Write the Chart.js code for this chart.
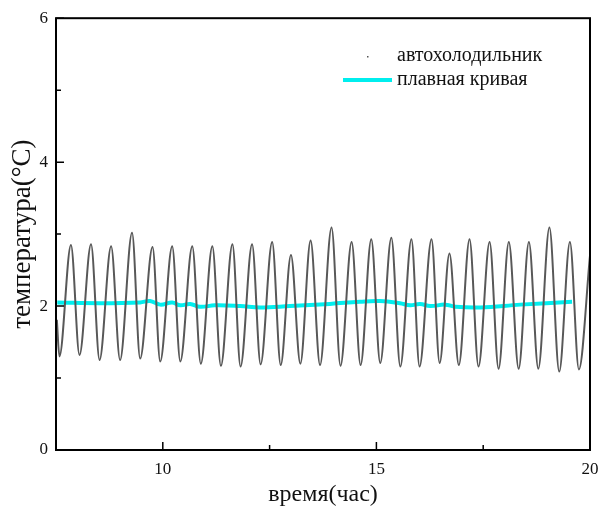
<!DOCTYPE html>
<html>
<head>
<meta charset="utf-8">
<script src="https://cdn.jsdelivr.net/npm/chart.js@4.4.0/dist/chart.umd.min.js"></script>
<style>
html, body { margin: 0; padding: 0; background: #fff; }
</style>
</head>
<body>
<canvas id="chart" width="601" height="507"></canvas>
<script>
// raw series: peaks and troughs (hours, °C)
const timeHours = [7.52, 7.58, 7.85, 8.05, 8.32, 8.52, 8.79, 9.00, 9.28, 9.47, 9.76, 9.94,
    10.22, 10.41, 10.69, 10.89, 11.16, 11.36, 11.63, 11.82, 12.09, 12.29, 12.56, 12.76,
    13.00, 13.22, 13.46, 13.68, 13.95, 14.16, 14.42, 14.63, 14.88, 15.09, 15.35, 15.56,
    15.82, 16.01, 16.29, 16.48, 16.71, 16.93, 17.18, 17.39, 17.65, 17.86, 18.10, 18.33,
    18.57, 18.79, 19.05, 19.28, 19.53, 19.74, 20.00];
const tempValues = [1.81, 1.30, 2.85, 1.32, 2.86, 1.25, 2.83, 1.25, 3.02, 1.27, 2.82, 1.23,
    2.83, 1.23, 2.83, 1.20, 2.83, 1.17, 2.86, 1.16, 2.86, 1.19, 2.89, 1.18,
    2.71, 1.20, 2.91, 1.18, 3.09, 1.17, 2.89, 1.18, 2.93, 1.21, 2.95, 1.16,
    2.93, 1.16, 2.93, 1.21, 2.73, 1.18, 2.93, 1.16, 2.89, 1.13, 2.89, 1.13,
    2.89, 1.13, 3.09, 1.09, 2.89, 1.12, 2.70];

// smoothed curve
const smoothHours = [7.53, 8.54, 9.47, 9.70, 9.94, 10.22, 10.41, 10.64, 10.87, 11.22, 11.81,
    12.28, 12.98, 13.91, 14.61, 15.08, 15.55, 15.79, 16.02, 16.26, 16.61, 16.85, 17.43,
    18.37, 19.58];
const smoothValues = [2.05, 2.04, 2.05, 2.07, 2.02, 2.05, 2.01, 2.03, 1.99, 2.01, 2.00,
    1.98, 2.00, 2.03, 2.06, 2.07, 2.04, 2.01, 2.03, 2.00, 2.02, 1.99, 1.98,
    2.02, 2.06];

const seriesNames = ['автохолодильник', 'плавная кривая'];
const xLabelValues = [10, 15, 20];
const yLabelValues = [0, 2, 4, 6];

const serif = "'Liberation Serif', 'DejaVu Serif', serif";

// inward tick marks, labelled ones longer
const innerTicks = {
    id: 'innerTicks',
    afterDraw(chart) {
        const ctx = chart.ctx;
        const area = chart.chartArea;
        const xs = chart.scales.x, ys = chart.scales.y;
        ctx.save();
        ctx.strokeStyle = '#000';
        ctx.lineWidth = 1.5;
        ctx.beginPath();
        xs.ticks.forEach(t => {
            const px = xs.getPixelForValue(t.value);
            const len = xLabelValues.includes(t.value) ? 8 : 5;
            ctx.moveTo(px, area.bottom);
            ctx.lineTo(px, area.bottom - len);
        });
        ys.ticks.forEach(t => {
            const py = ys.getPixelForValue(t.value);
            const len = yLabelValues.includes(t.value) ? 8 : 5;
            ctx.moveTo(area.left, py);
            ctx.lineTo(area.left + len, py);
        });
        ctx.stroke();
        ctx.lineWidth = 2;
        ctx.strokeRect(area.left, area.top, area.right - area.left, area.bottom - area.top);
        ctx.restore();
    }
};

// legend inside the plot, top right
const innerLegend = {
    id: 'innerLegend',
    afterDraw(chart) {
        const ctx = chart.ctx;
        const ds = chart.data.datasets;
        ctx.save();
        ctx.font = '20px ' + serif;
        ctx.textBaseline = 'middle';
        // dot symbol
        ctx.fillStyle = '#555';
        ctx.fillRect(367, 56, 1.5, 1.5);
        ctx.fillStyle = '#111';
        ctx.fillText(ds[0].label, 397, 56);
        ctx.strokeStyle = ds[1].borderColor;
        ctx.lineWidth = 4;
        ctx.beginPath();
        ctx.moveTo(343, 80);
        ctx.lineTo(392, 80);
        ctx.stroke();
        ctx.fillText(ds[1].label, 397, 80);
        ctx.restore();
    }
};

new Chart(document.getElementById('chart'), {
    type: 'line',
    data: {
        datasets: [{
            label: seriesNames[0],
            data: timeHours.map((h, i) => ({ x: h, y: tempValues[i] })),
            borderColor: '#585858',
            borderWidth: 2,
            pointRadius: 0,
            cubicInterpolationMode: 'monotone',
            fill: false,
        }, {
            label: seriesNames[1],
            data: smoothHours.map((h, i) => ({ x: h, y: smoothValues[i] })),
            borderColor: 'rgb(0, 238, 238)',
            borderWidth: 4,
            pointRadius: 0,
            tension: 0.4,
            fill: false,
        }]
    },
    options: {
        responsive: false,
        animation: false,
        layout: { padding: { left: 0, top: 18, right: 11, bottom: 0 } },
        plugins: {
            legend: { display: false },
            tooltip: { enabled: false },
        },
        scales: {
            x: {
                type: 'linear',
                min: 7.5,
                max: 20,
                afterFit(scale) {
                    scale.height = 57;
                    scale.paddingLeft = 0;
                    scale.paddingRight = 0;
                },
                grid: { display: false, drawTicks: false },
                border: { display: false },
                ticks: {
                    stepSize: 2.5,
                    autoSkip: false,
                    maxRotation: 0,
                    padding: 9,
                    color: '#111',
                    font: { family: serif, size: 17 },
                    callback: v => xLabelValues.includes(v) ? String(v) : '',
                },
                title: {
                    display: true,
                    text: 'время(час)',
                    color: '#111',
                    font: { family: serif, size: 24, lineHeight: 1 },
                    padding: 0,
                },
            },
            y: {
                min: 0,
                max: 6,
                afterFit(scale) { scale.width = 56; },
                grid: { display: false, drawTicks: false },
                border: { display: false },
                ticks: {
                    stepSize: 1,
                    autoSkip: false,
                    padding: 8,
                    color: '#111',
                    font: { family: serif, size: 17 },
                    callback: v => yLabelValues.includes(v) ? String(v) : '',
                },
                title: {
                    display: true,
                    text: 'температура(°C)',
                    color: '#111',
                    font: { family: serif, size: 27, lineHeight: 1 },
                    padding: 9,
                },
            },
        },
    },
    plugins: [innerTicks, innerLegend],
});
</script>
</body>
</html>
